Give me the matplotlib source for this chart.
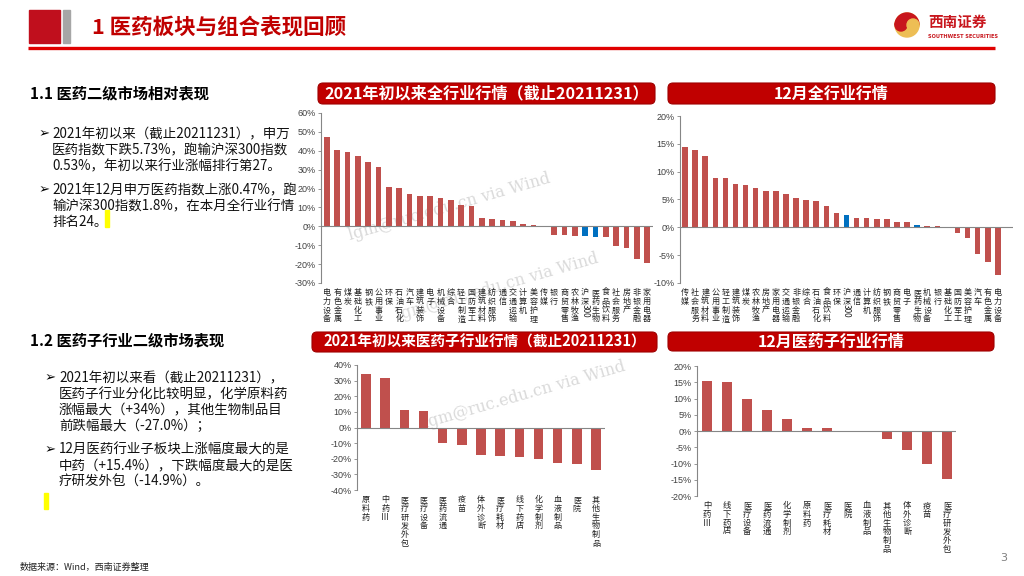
import matplotlib
matplotlib.use('Agg')
import matplotlib.pyplot as plt
from matplotlib.patches import FancyBboxPatch, Rectangle, Wedge, Circle

plt.rcParams['font.family'] = ['Noto Sans CJK SC', 'DejaVu Sans']

# ---- data ----
ytd_names = ['电力设备', '有色金属', '煤炭', '基础化工', '钢铁', '公用事业', '环保', '石油石化',
             '汽车', '建筑装饰', '电子', '机械设备', '综合', '轻工制造', '国防军工', '建筑材料',
             '纺织服饰', '通信', '交通运输', '计算机', '美容护理', '传媒', '银行', '商贸零售',
             '农林牧渔', '沪深300', '医药生物', '食品饮料', '社会服务', '房地产', '非银金融', '家用电器']
ytd_values = [47.5, 40.6, 39.6, 37.1, 34.1, 31.6, 20.6, 20.1, 17.0, 16.3, 16.2, 15.0, 13.8, 11.5,
              11.0, 4.4, 3.7, 3.1, 2.6, 1.4, 0.6, -0.2, -4.6, -4.7, -5.0, -5.2, -5.73, -5.9,
              -10.2, -11.7, -17.4, -19.5]

dec_names = ['传媒', '社会服务', '建筑材料', '公用事业', '轻工制造', '建筑装饰', '煤炭', '农林牧渔',
             '房地产', '家用电器', '交通运输', '非银金融', '综合', '石油石化', '食品饮料', '环保',
             '沪深300', '通信', '计算机', '纺织服饰', '钢铁', '商贸零售', '电子', '医药生物',
             '机械设备', '银行', '基础化工', '国防军工', '美容护理', '汽车', '有色金属', '电力设备']
dec_values = [14.4, 13.9, 12.8, 8.9, 8.8, 7.8, 7.6, 7.1, 6.6, 6.6, 6.0, 5.3, 4.9, 4.8, 3.9, 2.6,
              2.27, 1.75, 1.6, 1.5, 1.5, 1.0, 1.0, 0.47, 0.3, 0.2, -0.05, -1.1, -2.0, -4.8, -6.2, -8.6]

sub_ytd_names = ['原料药', '中药Ⅲ', '医疗研发外包', '医疗设备', '医药流通', '疫苗', '体外诊断',
                 '医疗耗材', '线下药店', '化学制剂', '血液制品', '医院', '其他生物制品']
sub_ytd_values = [34.0, 31.4, 11.4, 10.5, -9.6, -11.1, -17.9, -18.3, -18.8, -20.4, -23.0, -23.5, -27.0]

sub_dec_names = ['中药Ⅲ', '线下药店', '医疗设备', '医药流通', '化学制剂', '原料药', '医疗耗材',
                 '医院', '血液制品', '其他生物制品', '体外诊断', '疫苗', '医疗研发外包']
sub_dec_values = [15.4, 15.2, 9.8, 6.5, 3.8, 0.8, 0.8, 0.1, -0.4, -2.4, -5.9, -10.0, -14.9]

highlight = ['沪深300', '医药生物']

top_bullets = [
    ['2021年初以来（截止20211231），申万',
     '医药指数下跌5.73%，跑输沪深300指数',
     '0.53%，年初以来行业涨幅排行第27。'],
    ['2021年12月申万医药指数上涨0.47%，跑',
     '输沪深300指数1.8%，在本月全行业行情',
     '排名24。'],
]
bottom_bullets = [
    ['2021年初以来看（截止20211231），',
     '医药子行业分化比较明显，化学原料药',
     '涨幅最大（+34%），其他生物制品目',
     '前跌幅最大（-27.0%）；'],
    ['12月医药行业子板块上涨幅度最大的是',
     '中药（+15.4%），下跌幅度最大的是医',
     '疗研发外包（-14.9%）。'],
]

RED = '#C00000'
BAR = '#C0504D'
BLUE = '#0070C0'
GRAY = '#868686'
W, H = 1024, 576

fig = plt.figure(figsize=(W / 100, H / 100), dpi=100)
fig.patch.set_facecolor('white')

# background layer in pixel coordinates
bg = fig.add_axes([0, 0, 1, 1])
bg.set_xlim(0, W)
bg.set_ylim(H, 0)
bg.axis('off')

# header
bg.add_patch(Rectangle((29, 10), 31, 33, color='#C00F1D'))
bg.add_patch(Rectangle((63, 10), 7, 33, color='#A6A6A6'))
bg.plot([28, 995], [48, 48], color='#E00000', lw=2.4, solid_capstyle='butt')
bg.text(92, 28, '1 医药板块与组合表现回顾', fontsize=15.5, fontweight='bold', color=RED, va='center')

# logo
bg.add_patch(Circle((907, 25), 12, color='#EDBE55'))
bg.add_patch(Wedge((907, 25), 12, 180, 360, color='#C8161D'))
bg.add_patch(Circle((901, 25), 6, color='#C8161D'))
bg.add_patch(Circle((913, 25), 6, color='#EDBE55'))
bg.text(928, 22, '西南证券', fontsize=10.5, fontweight='bold', color='#C8161D', va='center')
bg.text(928, 37, 'SOUTHWEST SECURITIES', fontsize=3.6, fontweight='bold', color='#C8161D',
        va='center', family=['DejaVu Sans'])

# section headings and bullets
bg.text(30, 93, '1.1 医药二级市场相对表现', fontsize=11, fontweight='bold', va='center')
bg.text(30, 340, '1.2 医药子行业二级市场表现', fontsize=11, fontweight='bold', va='center')


def bullets(groups, x_arrow, x_text, starts):
    for lines, y0 in zip(groups, starts):
        bg.text(x_arrow, y0, '➢', fontsize=9.5, va='center', family=['DejaVu Sans'])
        for k, line in enumerate(lines):
            bg.text(x_text, y0 + 16 * k, line, fontsize=9.7, va='center', color='#111111')


bullets(top_bullets, 39, 52, [134, 190])
bullets(bottom_bullets, 45, 59, [378, 450])
bg.add_patch(Rectangle((105, 210), 4, 17, color='#FFFF00'))
bg.add_patch(Rectangle((44, 493), 4, 16, color='#FFFF00'))

bg.text(20, 567, '数据来源：Wind，西南证券整理', fontsize=6.5, style='italic', color='#222222', va='center')
bg.text(1000, 558, '3', fontsize=8, color='#7F7F7F', va='center', family=['DejaVu Sans'])

# watermark
for (x, y) in [(350, 240), (398, 320), (425, 428)]:
    bg.text(x, y, 'lgm@ruc.edu.cn via Wind', fontsize=11.5, family=['DejaVu Serif'],
            color='#DADADA', rotation=16, rotation_mode='anchor', va='baseline')


def title_box(x0, x1, y0, y1, text, size):
    bg.add_patch(FancyBboxPatch((x0, y0), x1 - x0, y1 - y0,
                                boxstyle='round,pad=0,rounding_size=5',
                                facecolor=RED, edgecolor='#9E0000', lw=0.8))
    bg.text((x0 + x1) / 2, (y0 + y1) / 2, text, fontsize=size, fontweight='bold',
            color='white', ha='center', va='center')


title_box(318, 655, 83, 104, '2021年初以来全行业行情（截止20211231）', 11.6)
title_box(668, 995, 83, 104, '12月全行业行情', 11.5)
title_box(312, 657, 332, 352, '2021年初以来医药子行业行情（截止20211231）', 10.5)
title_box(668, 994, 332, 351, '12月医药子行业行情', 11.5)


def bar_chart(left, top, right, bottom, names, values, ylim, step, xlim, width, fs):
    ax = fig.add_axes([left / W, 1 - bottom / H, (right - left) / W, (bottom - top) / H])
    ax.set_facecolor('none')
    colors = [BLUE if n in highlight else BAR for n in names]
    ax.bar(range(len(values)), values, width=width, color=colors, zorder=2)
    ax.axhline(0, color=GRAY, lw=0.8, zorder=3)
    ax.set_xlim(*xlim)
    ax.set_ylim(*ylim)
    ticks = list(range(ylim[0], ylim[1] + 1, step))
    ax.set_yticks(ticks)
    ax.set_yticklabels([f'{t}%' for t in ticks], family=['Liberation Sans'], fontsize=6.5,
                       color='#404040')
    for s in ['top', 'right', 'bottom']:
        ax.spines[s].set_visible(False)
    ax.spines['left'].set_color(GRAY)
    ax.spines['left'].set_linewidth(0.8)
    ax.tick_params(axis='y', length=2.5, width=0.6, color=GRAY, pad=1.5)
    labels = []
    for i, n in enumerate(names):
        if n.endswith('300'):
            labels.append('\n'.join(n[:-3]))
            ax.annotate('300', xy=(i, 0), xycoords=('data', 'axes fraction'),
                        xytext=(0, -15), textcoords='offset points', rotation=-90,
                        ha='center', va='top', fontsize=fs, color='#222222')
        else:
            labels.append('\n'.join(n))
    ax.set_xticks(range(len(names)))
    ax.set_xticklabels(labels, fontsize=fs, linespacing=0.97, va='top', color='#222222')
    ax.tick_params(axis='x', length=0, pad=3.6)
    return ax


bar_chart(321, 113, 653, 283, ytd_names, ytd_values, (-30, 60), 10, (-0.58, 31.58), 0.55, 5.8)
bar_chart(680, 116, 1013, 283, dec_names, dec_values, (-10, 20), 5, (-0.5, 32.5), 0.55, 5.8)
bar_chart(357, 365, 605, 490, sub_ytd_names, sub_ytd_values, (-40, 40), 10, (-0.47, 12.47), 0.5, 5.8)
bar_chart(697, 366, 956, 496, sub_dec_names, sub_dec_values, (-20, 20), 5, (-0.5, 12.45), 0.5, 6.0)

fig.savefig('out.png', dpi=100, facecolor='white')
